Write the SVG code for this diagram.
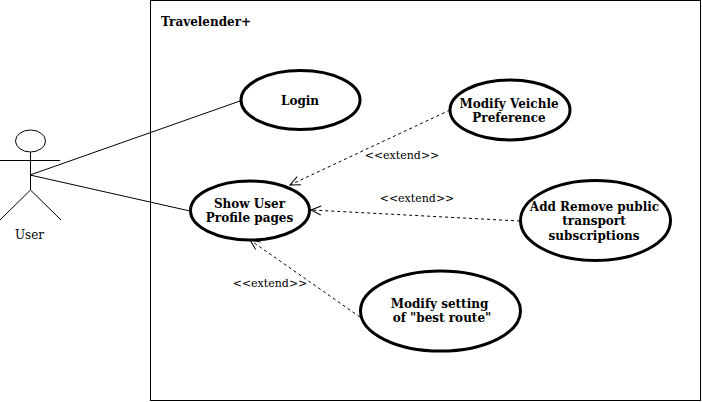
<svg xmlns="http://www.w3.org/2000/svg" width="702" height="402" viewBox="0 0 702 402">
<style>
text{font-family:"DejaVu Serif",serif;fill:#000}
.t{font-size:12px;font-weight:bold;text-anchor:middle}
.l{font-size:11px;text-anchor:middle}
.u{fill:#fff;stroke:#000;stroke-width:3}
.a{fill:#fff;stroke:#000;stroke-width:1}
.c{fill:none;stroke:#000;stroke-width:1}
.d{fill:none;stroke:#000;stroke-width:1;stroke-dasharray:3 3}
</style>
<defs><marker id="o" markerUnits="userSpaceOnUse" markerWidth="12" markerHeight="12" refX="11" refY="6" orient="auto"><path d="M1 1.500L11 6L1 10.500" fill="none" stroke="#000"/></marker></defs>
<rect width="702" height="402" fill="#fff"/>
<g id="system"><rect x="150.500" y="0.500" width="550" height="400" fill="#fff" stroke="#000"/><text x="161" y="26" font-size="12" font-weight="bold">Travelender+</text></g>
<g id="connectors">
<path class="c" d="M30 175L240 101"/><path class="c" d="M30 175L190 211"/>
<path class="d" marker-end="url(#o)" d="M450 110L290 185"/>
<path class="d" marker-end="url(#o)" d="M520 221L311 210"/>
<path class="d" marker-end="url(#o)" d="M360 317L250 240"/>
<text class="l" x="402" y="159">&lt;&lt;extend&gt;&gt;</text>
<text class="l" x="417" y="202">&lt;&lt;extend&gt;&gt;</text>
<text class="l" x="270" y="287">&lt;&lt;extend&gt;&gt;</text>
</g>
<g id="actor-user"><ellipse class="a" cx="30.500" cy="141" rx="15" ry="11"/><path class="c" d="M30.500 152V190M0 160.500H60M30.500 190L0 220M30.500 190L61 220"/><text x="29.500" y="239" font-size="12" text-anchor="middle">User</text></g>
<g id="login"><ellipse class="u" cx="300.500" cy="100" rx="59.500" ry="29.500"/><text class="t" x="300" y="105">Login</text></g>
<g id="show-profile"><ellipse class="u" cx="250" cy="210.500" rx="59.500" ry="29.500"/><text class="t" x="249.500" y="208">Show User</text><text class="t" x="249.500" y="222">Profile pages</text></g>
<g id="modify-vehicle"><ellipse class="u" cx="510" cy="110" rx="60" ry="30"/><text class="t" x="509" y="108">Modify Veichle</text><text class="t" x="509" y="122">Preference</text></g>
<g id="add-remove"><ellipse class="u" cx="595.500" cy="220.500" rx="75" ry="40"/><text class="t" x="594.500" y="211">Add Remove public</text><text class="t" x="594" y="225">transport</text><text class="t" x="594" y="240">subscriptions</text></g>
<g id="best-route"><ellipse class="u" cx="440.500" cy="311" rx="80" ry="40"/><text class="t" x="439.500" y="308">Modify setting</text><text class="t" x="442" y="322">of "best route"</text></g>
</svg>
